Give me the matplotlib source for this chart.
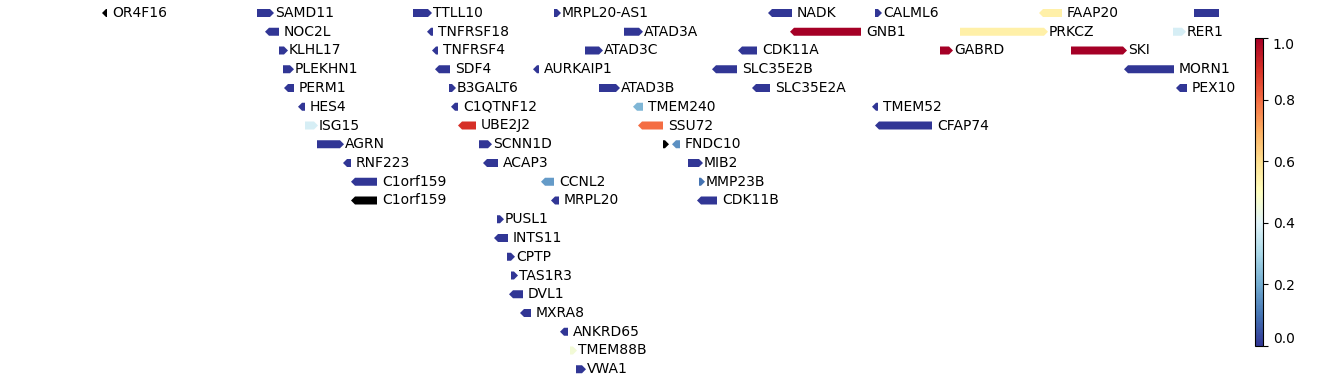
import numpy as np
import matplotlib
matplotlib.use("Agg")
import matplotlib.pyplot as plt
from matplotlib.patches import Polygon
from matplotlib.colors import Normalize
from matplotlib.cm import ScalarMappable

# ---------------- data ----------------
gene_names = [
    "OR4F16", "SAMD11", "TTLL10", "MRPL20-AS1", "NADK", "CALML6", "FAAP20", "PLCH2",
    "NOC2L", "TNFRSF18", "ATAD3A", "GNB1", "PRKCZ", "RER1",
    "KLHL17", "TNFRSF4", "ATAD3C", "CDK11A", "GABRD", "SKI",
    "PLEKHN1", "SDF4", "AURKAIP1", "SLC35E2B", "MORN1",
    "PERM1", "B3GALT6", "ATAD3B", "SLC35E2A", "PEX10",
    "HES4", "C1QTNF12", "TMEM240", "TMEM52",
    "ISG15", "UBE2J2", "SSU72", "CFAP74",
    "AGRN", "SCNN1D", "", "FNDC10",
    "RNF223", "ACAP3", "MIB2",
    "C1orf159", "CCNL2", "MMP23B",
    "C1orf159", "MRPL20", "CDK11B",
    "PUSL1", "INTS11", "CPTP", "TAS1R3", "DVL1", "MXRA8", "ANKRD65", "TMEM88B", "VWA1",
]
gene_starts = [
    106, 257, 413, 554, 772, 875, 1043, 1194,
    269, 431, 624, 794, 960, 1173,
    279, 436, 585, 742, 940, 1071,
    283, 439, 537, 716, 1128,
    288, 449, 599, 756, 1180,
    302, 455, 637, 876,
    305, 462, 642, 879,
    317, 479, 663, 676,
    347, 487, 688,
    355, 545, 699,
    355, 555, 701,
    497, 498, 507, 511, 513, 524, 564, 570, 576,
]
gene_ends = [
    107, 270, 428, 557, 792, 878, 1062, 1260,
    279, 433, 639, 861, 1044, 1182,
    284, 438, 599, 757, 949, 1123,
    290, 450, 539, 737, 1174,
    294, 452, 616, 770, 1187,
    305, 458, 643, 878,
    314, 476, 663, 932,
    340, 488, 665, 680,
    351, 498, 699,
    377, 554, 701,
    377, 559, 717,
    500, 508, 511, 514, 523, 531, 568, 573, 582,
]
gene_strands = [
    "-", "+", "+", "+", "-", "+", "-", "+",
    "-", "-", "+", "-", "+", "+",
    "+", "-", "+", "-", "+", "+",
    "+", "-", "-", "-", "-",
    "-", "+", "+", "-", "-",
    "-", "-", "-", "-",
    "+", "-", "-", "-",
    "+", "+", "+", "-",
    "-", "-", "+",
    "-", "-", "+",
    "-", "-", "-",
    "+", "-", "+", "+", "-", "-", "-", "+", "+",
]
nan = np.nan
gene_values = [
    nan, 0.0, 0.0, 0.0, 0.0, 0.0, 0.55, 0.0,
    0.0, 0.0, 0.0, 1.0, 0.55, 0.38,
    0.0, 0.0, 0.0, 0.0, 1.0, 1.0,
    0.0, 0.0, 0.0, 0.0, 0.0,
    0.0, 0.0, 0.0, 0.0, 0.0,
    0.0, 0.0, 0.22, 0.0,
    0.38, 0.9, 0.8, 0.0,
    0.0, 0.0, nan, 0.15,
    0.0, 0.0, 0.0,
    0.0, 0.17, 0.1,
    nan, 0.0, 0.0,
    0.0, 0.0, 0.0, 0.0, 0.0, 0.0, 0.0, 0.46, 0.0,
]
gene_rows = [
    0, 0, 0, 0, 0, 0, 0, 0,
    1, 1, 1, 1, 1, 1,
    2, 2, 2, 2, 2, 2,
    3, 3, 3, 3, 3,
    4, 4, 4, 4, 4,
    5, 5, 5, 5,
    6, 6, 6, 6,
    7, 7, 7, 7,
    8, 8, 8,
    9, 9, 9,
    10, 10, 10,
    11, 12, 13, 14, 15, 16, 17, 18, 19,
]
cbar_ticks = [0.0, 0.2, 0.4, 0.6, 0.8, 1.0]

# ---------------- layout ----------------
W, H = 1338, 383
fig = plt.figure(figsize=(W / 100, H / 100), dpi=100)
ax = fig.add_axes([100 / W, 0, 1119 / W, 1])
x_lo, x_hi = 100, 1219
ax.set_xlim(x_lo, x_hi)
ax.set_ylim(H, 0)
ax.axis("off")

cmap = plt.get_cmap("RdYlBu_r").copy()
cmap.set_bad("black")
norm = Normalize(vmin=0, vmax=1)

row_y0, row_step = 13.0, 18.75
bar_h = 8.0
head = 4.0

for name, s, e, strand, v, r in zip(gene_names, gene_starts, gene_ends,
                                    gene_strands, gene_values, gene_rows):
    y = row_y0 + r * row_step
    color = "black" if np.isnan(v) else cmap(norm(v))
    t, b = y - bar_h / 2, y + bar_h / 2
    if strand == "+":
        pts = [(s, t), (e, t), (e + head, y), (e, b), (s, b)]
    else:
        pts = [(e, t), (s, t), (s - head, y), (s, b), (e, b)]
    ax.add_patch(Polygon(pts, closed=True, facecolor=color, edgecolor="none",
                         clip_on=True))
    # labels of genes running past the visible window fall outside the view
    if name and e <= x_hi:
        ax.text(e + 5, y, name, ha="left", va="center", fontsize=10,
                color="black", clip_on=False)

# ---------------- colorbar ----------------
cax = fig.add_axes([1255 / W, (H - 346) / H, 8 / W, 308 / H])
sm = ScalarMappable(norm=norm, cmap=cmap)
cb = fig.colorbar(sm, cax=cax, ticks=cbar_ticks)
cb.ax.tick_params(labelsize=10)
labels = cb.ax.get_yticklabels()
labels[0].set_va("bottom")
labels[-1].set_va("top")

fig.savefig("out.png", dpi=100)
